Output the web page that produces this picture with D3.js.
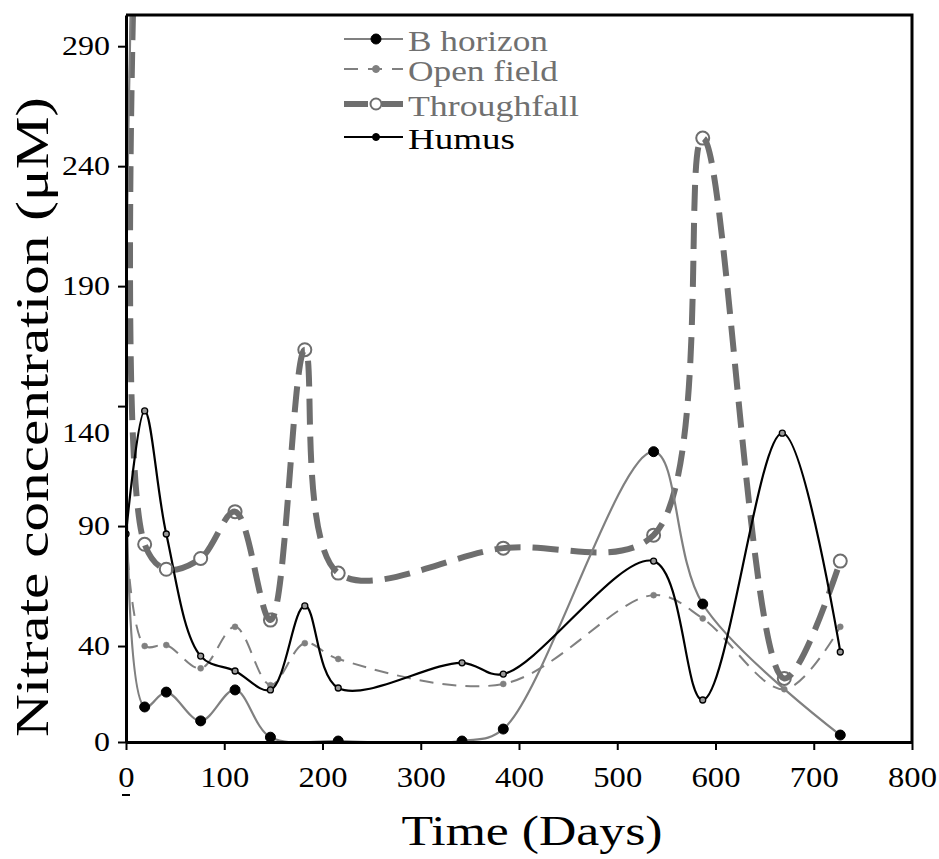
<!DOCTYPE html>
<html>
<head>
<meta charset="utf-8">
<script src="https://cdn.jsdelivr.net/npm/d3@7"></script>
<style>
  html, body { margin: 0; padding: 0; background: #fff; }
  svg, svg text { font-family: "Liberation Serif", "Times New Roman", Times, Tinos, serif !important; }
</style>
</head>
<body>
<svg id="chart" width="939" height="859"></svg>
<script>
// ---------- DATA ----------
const seriesNames = ["B horizon", "Open field", "Throughfall", "Humus"];

const bHorizonDays   = [11, 19, 41, 76, 111, 147, 216, 342, 384, 537, 587, 727];
const bHorizonValues = [400, 14.6, 20.8, 8.8, 21.7, 2, 0.4, 0.4, 5.4, 121, 57.5, 2.9];

const openFieldDays   = [0, 19, 41, 76, 111, 147, 182, 216, 384, 537, 587, 670, 727];
const openFieldValues = [87, 40, 40.4, 30.7, 48, 23.7, 41.2, 34.6, 24.2, 61.2, 51.5, 22, 48];

const throughfallDays   = [9, 19, 41, 76, 111, 147, 182, 216, 384, 537, 587, 670, 727];
const throughfallValues = [335, 82.4, 72, 76.5, 96, 50.8, 163.5, 70.4, 80.8, 86.2, 251.7, 26.5, 75.4];

const humusDays   = [0, 19, 41, 76, 111, 147, 182, 216, 342, 384, 537, 587, 668, 727];
const humusValues = [86.7, 138, 86.7, 35.8, 29.6, 21.7, 56.7, 22.5, 33, 28.3, 75.4, 17.5, 128.7, 37.5];

const xTickValues = [0, 100, 200, 300, 400, 500, 600, 700, 800];
const yTickValues = [0, 40, 90, 140, 190, 240, 290];

const xTitle = "Time (Days)";
const yTitle = "Nitrate concentration  (\u03BCM)";

// ---------- LAYOUT ----------
const FONT = "'Liberation Serif', 'Times New Roman', Times, Tinos, serif";
const svg = d3.select("#chart");
const L = 126, R = 912, T = 15, B = 742;
const x = d3.scaleLinear().domain([0, 800]).range([L, R]);
const y = d3.scaleLinear().domain([0, 303]).range([B, T]);

const styles = {
  "B horizon":   { stroke: "#808080", width: 2.2, dash: null, marker: { r: 5, fill: "#000", stroke: "#000", sw: 1 }, text: "#707070", tl: 140 },
  "Open field":  { stroke: "#808080", width: 2, dash: "14,9", marker: { r: 3, fill: "#808080", stroke: "#808080", sw: 0.5 }, text: "#707070", tl: 150 },
  "Throughfall": { stroke: "#6e6e6e", width: 6, dash: "26,12", marker: { r: 6.5, fill: "none", stroke: "#6e6e6e", sw: 2 }, text: "#707070", tl: 171 },
  "Humus":       { stroke: "#000", width: 2.2, dash: null, marker: { r: 3, fill: "#999", stroke: "#000", sw: 1.3 }, text: "#000", tl: 107 }
};

const series = [
  { name: "Throughfall", days: throughfallDays, values: throughfallValues },
  { name: "Open field",  days: openFieldDays,   values: openFieldValues },
  { name: "B horizon",   days: bHorizonDays,    values: bHorizonValues },
  { name: "Humus",       days: humusDays,       values: humusValues }
];

svg.append("defs").append("clipPath").attr("id", "plotclip")
  .append("rect").attr("x", L).attr("y", T).attr("width", R - L).attr("height", B - T);

const line = d3.line()
  .x(d => x(d[0])).y(d => y(d[1]))
  .curve(d3.curveCatmullRom.alpha(0.5));

const plot = svg.append("g").attr("clip-path", "url(#plotclip)");

series.forEach(s => {
  const st = styles[s.name];
  const pts = s.days.map((d, i) => [d, s.values[i]]);
  plot.append("path")
    .datum(pts)
    .attr("d", line)
    .attr("fill", "none")
    .attr("stroke", st.stroke)
    .attr("stroke-width", st.width)
    .attr("stroke-dasharray", st.dash)
    .attr("stroke-linejoin", "round");
});
series.forEach(s => {
  const st = styles[s.name];
  const pts = s.days.map((d, i) => [d, s.values[i]]).filter(p => p[1] <= 303);
  plot.selectAll(null).data(pts).enter().append("circle")
    .attr("cx", d => x(d[0])).attr("cy", d => y(d[1]))
    .attr("r", st.marker.r)
    .attr("fill", st.marker.fill)
    .attr("stroke", st.marker.stroke)
    .attr("stroke-width", st.marker.sw);
});

// ---------- AXES ----------
const xAxis = svg.append("g").attr("transform", `translate(0,${B})`)
  .call(d3.axisBottom(x).tickValues(xTickValues).tickFormat(d3.format("d"))
    .tickSizeInner(8).tickSizeOuter(0).tickPadding(16));
xAxis.attr("font-family", FONT);
xAxis.select(".domain").attr("stroke-width", 3);
xAxis.selectAll(".tick line").attr("stroke-width", 2);
xAxis.selectAll(".tick text")
  .attr("font-size", 30).attr("font-family", FONT).attr("fill", "#000")
  .each(function(d) {
    const n = String(d).length;
    d3.select(this).attr("textLength", n * 16.3).attr("lengthAdjust", "spacingAndGlyphs");
  });

const yAxis = svg.append("g").attr("transform", `translate(${L},0)`)
  .call(d3.axisLeft(y).tickValues(yTickValues).tickFormat(d3.format("d"))
    .tickSizeInner(8).tickSizeOuter(0).tickPadding(8));
yAxis.attr("font-family", FONT);
yAxis.select(".domain").attr("stroke-width", 3);
yAxis.selectAll(".tick line").attr("stroke-width", 2);
yAxis.selectAll(".tick text")
  .attr("font-size", 27).attr("font-family", FONT).attr("fill", "#000")
  .each(function(d) {
    const n = String(d).length;
    d3.select(this).attr("textLength", n * 16).attr("lengthAdjust", "spacingAndGlyphs");
    if (d === 140) d3.select(this).attr("y", 27);
  });

// frame (top + right)
svg.append("path")
  .attr("d", `M${L},${T}H${R}V${B}`)
  .attr("fill", "none").attr("stroke", "#000").attr("stroke-width", 3);

// small mark under x "0"
svg.append("line")
  .attr("x1", x(0) - 4).attr("x2", x(0) + 4)
  .attr("y1", 795).attr("y2", 795)
  .attr("stroke", "#000").attr("stroke-width", 2);

// ---------- TITLES ----------
svg.append("text")
  .attr("x", 532).attr("y", 845)
  .attr("text-anchor", "middle")
  .attr("font-family", FONT)
  .attr("font-size", 42)
  .attr("textLength", 261).attr("lengthAdjust", "spacingAndGlyphs")
  .text(xTitle);

svg.append("text")
  .attr("transform", "translate(48,417) rotate(-90)")
  .attr("text-anchor", "middle")
  .attr("font-family", FONT)
  .attr("font-size", 46)
  .attr("textLength", 640).attr("lengthAdjust", "spacingAndGlyphs")
  .text(yTitle);

// ---------- LEGEND ----------
const legendOrder = ["B horizon", "Open field", "Throughfall", "Humus"];
const legendLineY = [39, 69, 104, 137];
const legend = svg.append("g");
legendOrder.forEach((name, i) => {
  const st = styles[name];
  const ly = legendLineY[i];
  const g = legend.append("g");
  g.append("line")
    .attr("x1", 344).attr("x2", 403).attr("y1", ly).attr("y2", ly)
    .attr("stroke", st.stroke).attr("stroke-width", st.width)
    .attr("stroke-dasharray", name === "Open field" ? "14,10" : (name === "Throughfall" ? "24,14" : null));
  g.append("circle")
    .attr("cx", 376).attr("cy", ly)
    .attr("r", name === "Throughfall" ? 5.5 : (name === "B horizon" ? 5 : 3.5))
    .attr("fill", name === "Throughfall" ? "#fff" : (name === "Humus" ? "#000" : st.marker.fill))
    .attr("stroke", st.marker.stroke).attr("stroke-width", name === "Throughfall" ? 2 : 1);
  g.append("text")
    .attr("x", 408).attr("y", ly + 12)
    .attr("font-family", FONT)
    .attr("font-size", 30)
    .attr("fill", st.text)
    .attr("textLength", st.tl).attr("lengthAdjust", "spacingAndGlyphs")
    .text(name);
});
</script>
</body>
</html>
